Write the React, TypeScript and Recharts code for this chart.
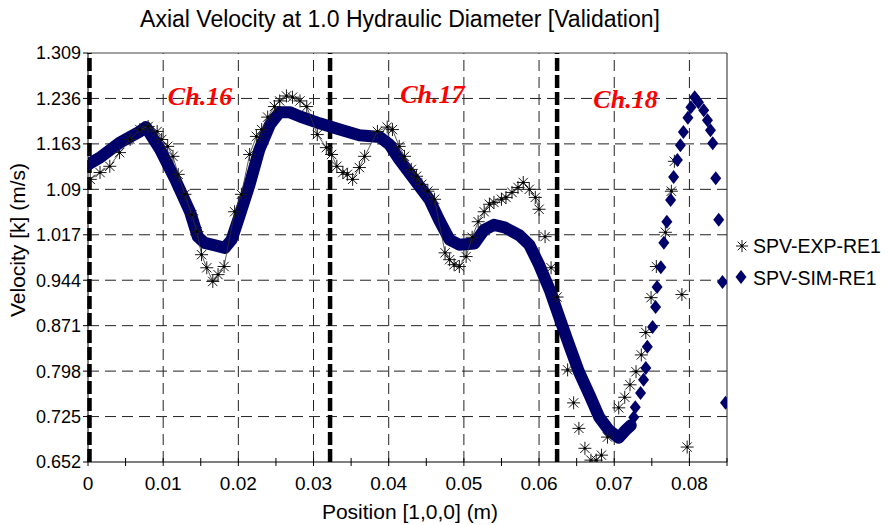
import React from 'react';
import { ComposedChart, Line, Scatter, XAxis, YAxis, ReferenceLine, ReferenceDot } from 'recharts';

// x ticks (minor every 0.005, labelled every 0.01)
const xTicks = [0, 0.005, 0.01, 0.015, 0.02, 0.025, 0.03, 0.035, 0.04, 0.045, 0.05, 0.055, 0.06, 0.065, 0.07, 0.075, 0.08, 0.085];
const xGrid = [0.01, 0.02, 0.03, 0.04, 0.05, 0.06, 0.07, 0.08];
const yTicks = [0.652, 0.725, 0.798, 0.871, 0.944, 1.017, 1.09, 1.163, 1.236, 1.309];
const yGrid = [0.725, 0.798, 0.871, 0.944, 1.017, 1.09, 1.163, 1.236];

// channel boundaries + labels
const channelBounds = [0.0002, 0.0322, 0.0624];
const channelNames = ['Ch.16', 'Ch.17', 'Ch.18'];
const channelX = [0.0149, 0.0458, 0.0715];
const channelY = [1.2255, 1.2294, 1.2214];

// SPV-SIM-RE1, dense part (drawn as a thick band)
const simBand: [number, number][] = [
  [0, 1.130], [0.0016, 1.141], [0.0042, 1.165], [0.0069, 1.183], [0.0077, 1.190],
  [0.0096, 1.154], [0.0116, 1.106], [0.0136, 1.053], [0.0146, 1.014], [0.0155, 1.004],
  [0.0169, 1.000], [0.0182, 0.996], [0.0191, 1.009], [0.0202, 1.049], [0.0215, 1.098],
  [0.0228, 1.154], [0.0242, 1.194], [0.0255, 1.214], [0.0268, 1.214], [0.0282, 1.207],
  [0.0308, 1.196], [0.0335, 1.186], [0.0361, 1.177], [0.0388, 1.174], [0.0401, 1.162],
  [0.0414, 1.138], [0.0434, 1.106], [0.0454, 1.074], [0.0467, 1.041], [0.0481, 1.009],
  [0.0494, 1.001], [0.0514, 1.003], [0.0527, 1.025], [0.0540, 1.033], [0.0554, 1.029],
  [0.0574, 1.016], [0.0587, 1.001], [0.0600, 0.969], [0.0614, 0.929], [0.0627, 0.884],
  [0.0640, 0.840], [0.0653, 0.797], [0.0667, 0.760], [0.0680, 0.724], [0.0693, 0.703],
  [0.0706, 0.691], [0.0715, 0.703], [0.0722, 0.711],
];

// SPV-SIM-RE1, sparse part (separate diamonds)
const simPoints: [number, number][] = [
  [0.0726, 0.724], [0.0728, 0.740], [0.0735, 0.763], [0.0739, 0.784], [0.0742, 0.803],
  [0.0744, 0.837], [0.0751, 0.869], [0.0755, 0.901], [0.0757, 0.933], [0.0762, 0.965],
  [0.0766, 1.004], [0.0770, 1.038], [0.0775, 1.073], [0.0779, 1.110], [0.0784, 1.137],
  [0.0788, 1.161], [0.0792, 1.182], [0.0798, 1.205], [0.0802, 1.222], [0.0807, 1.238],
  [0.0812, 1.230], [0.0819, 1.217], [0.0824, 1.201], [0.0828, 1.185], [0.0831, 1.164],
  [0.0835, 1.108], [0.0839, 1.041], [0.0844, 0.941], [0.0848, 0.747],
];

// SPV-EXP-RE1, connected part
const expMain: [number, number][] = [
  [0.0003, 1.106], [0.0016, 1.117], [0.0029, 1.127], [0.0042, 1.149], [0.0056, 1.170],
  [0.0069, 1.186], [0.0080, 1.191], [0.0092, 1.183], [0.0098, 1.170], [0.0106, 1.159],
  [0.0113, 1.143], [0.0120, 1.114], [0.0129, 1.082], [0.0138, 1.049], [0.0145, 1.022],
  [0.0151, 0.985], [0.0158, 0.964], [0.0166, 0.942], [0.0173, 0.953], [0.0181, 0.966],
  [0.0195, 1.054], [0.0204, 1.082], [0.0215, 1.146], [0.0224, 1.175], [0.0231, 1.186],
  [0.0239, 1.206], [0.0248, 1.223], [0.0255, 1.232], [0.0264, 1.240], [0.0272, 1.238],
  [0.0282, 1.232], [0.0291, 1.223], [0.0305, 1.178], [0.0317, 1.157], [0.0324, 1.146],
  [0.0331, 1.127], [0.0339, 1.117], [0.0345, 1.114], [0.0352, 1.106], [0.0361, 1.125],
  [0.0368, 1.143], [0.0385, 1.183], [0.0398, 1.190], [0.0405, 1.186], [0.0414, 1.159],
  [0.0421, 1.143], [0.0430, 1.122], [0.0437, 1.111], [0.0444, 1.098], [0.0452, 1.087],
  [0.0461, 1.074], [0.0475, 0.988], [0.0481, 0.977], [0.0487, 0.969], [0.0494, 0.966],
  [0.0503, 0.982], [0.0511, 1.013], [0.0519, 1.038], [0.0527, 1.054], [0.0534, 1.066],
  [0.0540, 1.069], [0.0550, 1.074], [0.0556, 1.077], [0.0564, 1.085], [0.0572, 1.093],
  [0.0579, 1.101], [0.0587, 1.090], [0.0595, 1.077], [0.0600, 1.058],
];

// SPV-EXP-RE1, loose points
const expTail: [number, number][] = [
  [0.0608, 1.014], [0.0616, 0.964], [0.0624, 0.917], [0.0638, 0.800], [0.0646, 0.747],
  [0.0653, 0.706], [0.0661, 0.674], [0.0669, 0.655], [0.0676, 0.655], [0.0683, 0.663],
  [0.0691, 0.692], [0.0706, 0.739], [0.0714, 0.756], [0.0721, 0.776], [0.0729, 0.797],
  [0.0736, 0.824], [0.0742, 0.860], [0.0749, 0.916], [0.0756, 0.966], [0.0768, 1.021],
  [0.0776, 1.087], [0.0780, 1.135], [0.0790, 0.921], [0.0797, 0.676],
];

const toRows = (arr: [number, number][]) => arr.map(([x, v]) => ({ x, v }));

const FONT = '"Liberation Sans", Arial, sans-serif';
const NAVY = '#00006B';
const GRID = '#222';

const Asterisk = ({ cx, cy, s = 6.5 }: any) => {
  if (cx == null || cy == null) return null;
  const d = s * 0.72;
  return (
    <g stroke="#1a1a1a" strokeWidth={1}>
      <line x1={cx} y1={cy - s} x2={cx} y2={cy + s} />
      <line x1={cx - s} y1={cy} x2={cx + s} y2={cy} />
      <line x1={cx - d} y1={cy - d} x2={cx + d} y2={cy + d} />
      <line x1={cx - d} y1={cy + d} x2={cx + d} y2={cy - d} />
      <circle cx={cx} cy={cy} r={1.4} fill="#000" stroke="none" />
    </g>
  );
};

const Diamond = ({ cx, cy, w = 5.5, h = 7 }: any) => {
  if (cx == null || cy == null) return null;
  return <polygon points={`${cx},${cy - h} ${cx + w},${cy} ${cx},${cy + h} ${cx - w},${cy}`} fill={NAVY} />;
};

const XTick = (props: any) => {
  const { x, y, payload } = props;
  const val = payload.value;
  const major = Math.abs(Math.round(val * 100) - val * 100) < 1e-6;
  return (
    <g>
      <line x1={x} y1={y - 4} x2={x} y2={y + 4} stroke="#000" />
      {major && (
        <text x={x} y={y + 28} textAnchor="middle" fontSize={19} fontFamily={FONT} fill="#000">
          {val === 0 ? '0' : val.toFixed(2)}
        </text>
      )}
    </g>
  );
};

export default function App() {
  return (
    <div style={{ position: 'absolute', left: 0, top: 0, width: 895, height: 525, background: '#fff' }}>
      <ComposedChart width={895} height={525} margin={{ top: 53, right: 168, left: 0, bottom: 0 }}>
        <XAxis
          type="number"
          dataKey="x"
          domain={[0, 0.085]}
          ticks={xTicks}
          interval={0}
          allowDataOverflow
          height={63}
          tickSize={0}
          tickMargin={0}
          tickLine={false}
          tick={<XTick />}
          axisLine={{ stroke: '#000' }}
          label={{
            content: () => (
              <text x={410} y={519} textAnchor="middle" fontSize={21} fontFamily={FONT} fill="#000">
                Position [1,0,0] (m)
              </text>
            ),
          }}
        />
        <YAxis
          type="number"
          dataKey="v"
          domain={[0.652, 1.309]}
          ticks={yTicks}
          interval={0}
          allowDataOverflow
          width={88}
          tickSize={5}
          tickMargin={2}
          tick={{ fill: '#000', fontSize: 18, fontFamily: FONT }}
          tickLine={{ stroke: '#000' }}
          axisLine={{ stroke: '#000' }}
          label={{
            content: () => (
              <text x={25} y={240} transform="rotate(-90, 25, 240)" textAnchor="middle" fontSize={21} fontFamily={FONT} fill="#000">
                Velocity [k] (m/s)
              </text>
            ),
          }}
        />

        {yGrid.map((v) => (
          <ReferenceLine key={'gy' + v} y={v} stroke={GRID} strokeDasharray="11 6" strokeWidth={1} />
        ))}
        {xGrid.map((v) => (
          <ReferenceLine key={'gx' + v} x={v} stroke={GRID} strokeDasharray="11 6" strokeWidth={1} />
        ))}
        <ReferenceLine y={1.309} stroke="#444" strokeWidth={1} />
        <ReferenceLine x={0.085} stroke="#222" strokeWidth={1} />
        {channelBounds.map((v) => (
          <ReferenceLine key={'cb' + v} x={v} stroke="#000" strokeWidth={4.5} strokeDasharray="13 4" />
        ))}

        <Scatter
          name="SPV-EXP-RE1"
          data={toRows(expMain)}
          line={{ stroke: '#333', strokeWidth: 0.8 }}
          lineType="joint"
          shape={(p: any) => <Asterisk cx={p.cx} cy={p.cy} />}
          isAnimationActive={false}
        />
        <Scatter
          name="SPV-EXP-RE1 tail"
          data={toRows(expTail)}
          shape={(p: any) => <Asterisk cx={p.cx} cy={p.cy} />}
          isAnimationActive={false}
        />
        <Line
          name="SPV-SIM-RE1"
          data={toRows(simBand)}
          dataKey="v"
          type="linear"
          stroke={NAVY}
          strokeWidth={12}
          strokeLinejoin="round"
          strokeLinecap="round"
          dot={false}
          activeDot={false}
          isAnimationActive={false}
        />
        <Scatter
          name="SPV-SIM-RE1 pts"
          data={toRows(simPoints)}
          shape={(p: any) => <Diamond cx={p.cx} cy={p.cy} />}
          isAnimationActive={false}
        />

        {channelNames.map((name, i) => (
          <ReferenceDot
            key={name}
            x={channelX[i]}
            y={channelY[i]}
            r={0}
            stroke="none"
            fill="none"
            label={{
              content: (lp: any) => {
                const vb = lp.viewBox || {};
                return (
                  <text
                    x={vb.x + (vb.width || 0) / 2}
                    y={vb.y + (vb.height || 0) / 2}
                    textAnchor="middle"
                    fontSize={26}
                    fontFamily='"Liberation Serif", "Times New Roman", serif'
                    fontStyle="italic"
                    fontWeight="bold"
                    fill="#FF0000"
                  >
                    {name}
                  </text>
                );
              },
            }}
          />
        ))}
      </ComposedChart>

      {/* title + legend overlay */}
      <svg width={895} height={525} style={{ position: 'absolute', left: 0, top: 0, pointerEvents: 'none' }}>
        <text x={400} y={27} textAnchor="middle" fontSize={23} fontFamily={FONT} fill="#000">
          Axial Velocity at 1.0 Hydraulic Diameter [Validation]
        </text>
        <Asterisk cx={742} cy={246} s={6} />
        <text x={753} y={253} fontSize={19.5} fontFamily={FONT} fill="#000">SPV-EXP-RE1</text>
        <Diamond cx={741} cy={277} w={5.5} h={7} />
        <text x={753} y={285} fontSize={19.5} fontFamily={FONT} fill="#000">SPV-SIM-RE1</text>
      </svg>
    </div>
  );
}
